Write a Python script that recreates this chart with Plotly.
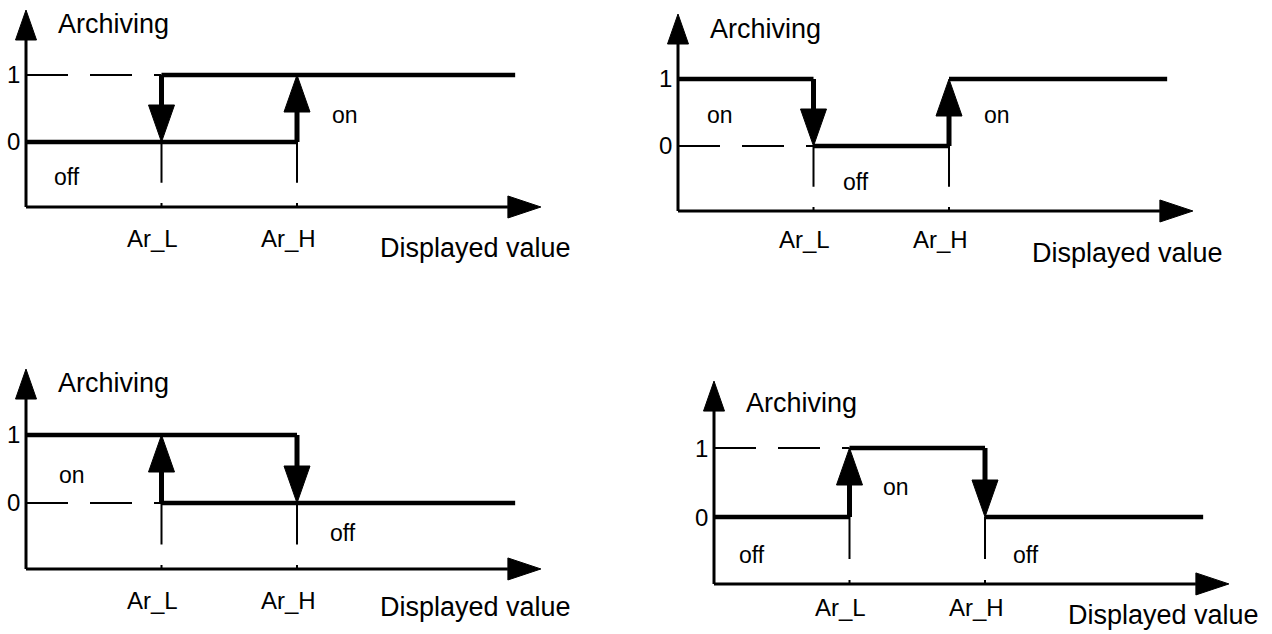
import plotly.graph_objects as go

W, H = 1272, 634
FONT = "Liberation Sans, Arial, sans-serif"

# positions along the displayed-value axis (display units)
AR_L = 1.0
AR_H = 2.0
LINE_END = 3.61
AXIS_END = 3.8
# archiving levels
LEVELS = [0, 1]
LEVEL_LABELS = ["0", "1"]
AXIS_TOP = 1.97
AXIS_Y = -0.97
GUIDE_BOTTOM = -0.61
THRESHOLDS = [AR_L, AR_H]
THRESHOLD_LABELS = ["Ar_L", "Ar_H"]

# solid state lines: (x start, x end, level)
P1_SOLID = [(0, AR_H, 0), (AR_L, LINE_END, 1)]
P2_SOLID = [(0, AR_L, 1), (AR_L, AR_H, 0), (AR_H, LINE_END, 1)]
P3_SOLID = [(0, AR_H, 1), (AR_L, LINE_END, 0)]
P4_SOLID = [(0, AR_L, 0), (AR_L, AR_H, 1), (AR_H, LINE_END, 0)]

# switching steps: (x, from level, to level)
P1_STEPS = [(AR_L, 1, 0), (AR_H, 0, 1)]
P2_STEPS = [(AR_L, 1, 0), (AR_H, 0, 1)]
P3_STEPS = [(AR_L, 0, 1), (AR_H, 1, 0)]
P4_STEPS = [(AR_L, 0, 1), (AR_H, 1, 0)]

# dashed reference lines: (x start, x end, level)
P1_DASH = [(0, AR_L, 1)]
P2_DASH = [(0, AR_L, 0)]
P3_DASH = [(0, AR_L, 0)]
P4_DASH = [(0, AR_L, 1)]

# state texts: (text, x, y)
P1_TEXT = [("off", 0.19, -0.52), ("on", 2.24, 0.40)]
P2_TEXT = [("on", 0.20, 0.46), ("off", 1.20, -0.54), ("on", 2.24, 0.46)]
P3_TEXT = [("on", 0.23, 0.41), ("off", 2.23, -0.44)]
P4_TEXT = [("off", 0.17, -0.55), ("on", 1.23, 0.43), ("off", 2.19, -0.55)]

PANELS = [
    (P1_SOLID, P1_STEPS, P1_DASH, P1_TEXT),
    (P2_SOLID, P2_STEPS, P2_DASH, P2_TEXT),
    (P3_SOLID, P3_STEPS, P3_DASH, P3_TEXT),
    (P4_SOLID, P4_STEPS, P4_DASH, P4_TEXT),
]

# pixel placement of each panel: origin x, level-0 y, px per unit, label offsets
GEOM = [
    dict(ox=26, oy=142, ux=135.5, uy=67, arch=1.76, tick_dy=-32, dv_dy=-41),
    dict(ox=678, oy=146, ux=135.5, uy=67, arch=1.74, tick_dy=-29, dv_dy=-42),
    dict(ox=26, oy=503, ux=135.5, uy=68, arch=1.77, tick_dy=-32, dv_dy=-38),
    dict(ox=714, oy=517, ux=135.5, uy=69, arch=1.65, tick_dy=-24, dv_dy=-31),
]
XR = [-0.19, 4.0]
YR = [-1.4, 2.1]

fig = go.Figure()


def seg(x, y, xa, ya, width, dash="solid"):
    fig.add_trace(
        go.Scatter(
            x=x, y=y, xaxis=xa, yaxis=ya, mode="lines",
            line=dict(color="black", width=width, dash=dash),
            hoverinfo="skip", showlegend=False,
        )
    )


def tri(x, y, xa, ya):
    fig.add_trace(
        go.Scatter(
            x=x, y=y, xaxis=xa, yaxis=ya, mode="lines", fill="toself",
            fillcolor="black", line=dict(color="black", width=1),
            hoverinfo="skip", showlegend=False,
        )
    )


def clamp(v):
    return min(1.0, max(0.0, v))


annotations = []
layout_axes = {}
for i, ((solid, steps, dashed, texts), g) in enumerate(zip(PANELS, GEOM)):
    n = "" if i == 0 else str(i + 1)
    xa, ya = "x" + n, "y" + n
    ux, uy = g["ux"], g["uy"]
    x0 = clamp((g["ox"] + XR[0] * ux) / W)
    x1 = clamp((g["ox"] + XR[1] * ux) / W)
    y0 = clamp(1 - (g["oy"] - YR[0] * uy) / H)
    y1 = clamp(1 - (g["oy"] - YR[1] * uy) / H)
    layout_axes["xaxis" + n] = dict(domain=[x0, x1], range=XR, visible=False, fixedrange=True, anchor=ya)
    layout_axes["yaxis" + n] = dict(domain=[y0, y1], range=YR, visible=False, fixedrange=True, anchor=xa)

    # dashed reference
    for a, b, lv in dashed:
        seg([a, b], [lv, lv], xa, ya, 2, dash="42px,22px")

    # guide lines below thresholds and tick dots on the axis
    for t in THRESHOLDS:
        seg([t, t], [0, GUIDE_BOTTOM], xa, ya, 2)
        seg([t, t], [AXIS_Y, AXIS_Y + 4 / uy], xa, ya, 2)

    # axes with arrowheads
    yhl, yhw = 30, 10.5
    seg([0, 0], [AXIS_Y, AXIS_TOP - yhl / uy], xa, ya, 3)
    tri([-yhw / ux, yhw / ux, 0, -yhw / ux],
        [AXIS_TOP - yhl / uy, AXIS_TOP - yhl / uy, AXIS_TOP, AXIS_TOP - yhl / uy], xa, ya)
    xhl, xhw = 33, 11
    seg([0, AXIS_END - xhl / ux], [AXIS_Y, AXIS_Y], xa, ya, 3)
    tri([AXIS_END - xhl / ux, AXIS_END - xhl / ux, AXIS_END, AXIS_END - xhl / ux],
        [AXIS_Y - xhw / uy, AXIS_Y + xhw / uy, AXIS_Y, AXIS_Y - xhw / uy], xa, ya)

    # state lines
    for a, b, lv in solid:
        seg([a, b], [lv, lv], xa, ya, 4.5)

    # switching arrows
    shl, shw = 37, 13
    for t, frm, to in steps:
        sgn = 1 if to > frm else -1
        base = to - sgn * shl / uy
        seg([t, t], [frm, base], xa, ya, 5)
        tri([t - shw / ux, t + shw / ux, t, t - shw / ux], [base, base, to, base], xa, ya)

    # texts
    for lv, lab in zip(LEVELS, LEVEL_LABELS):
        annotations.append(dict(x=0, y=lv, xref=xa, yref=ya, text=lab, showarrow=False,
                                xanchor="right", xshift=-4, font=dict(size=24)))
    for t, lab in zip(THRESHOLDS, THRESHOLD_LABELS):
        annotations.append(dict(x=t - 0.065, y=AXIS_Y, xref=xa, yref=ya, text=lab, showarrow=False,
                                yshift=g["tick_dy"], font=dict(size=24)))
    annotations.append(dict(x=2.6, y=AXIS_Y, xref=xa, yref=ya, text="Displayed value", showarrow=False,
                            xanchor="left", yshift=g["dv_dy"], font=dict(size=27)))
    annotations.append(dict(x=0, y=g["arch"], xref=xa, yref=ya, text="Archiving", showarrow=False,
                            xanchor="left", xshift=30, font=dict(size=27)))
    for txt, tx, ty in texts:
        annotations.append(dict(x=tx, y=ty, xref=xa, yref=ya, text=txt, showarrow=False,
                                xanchor="left", font=dict(size=23)))

fig.update_layout(
    width=W, height=H,
    margin=dict(l=0, r=0, t=0, b=0),
    paper_bgcolor="white", plot_bgcolor="white",
    font=dict(family=FONT, color="black"),
    showlegend=False, hovermode=False,
    annotations=annotations,
    **layout_axes,
)

fig.write_html(
    "out.html",
    config=dict(displayModeBar=False),
    post_script="document.body.style.margin='0';",
)
